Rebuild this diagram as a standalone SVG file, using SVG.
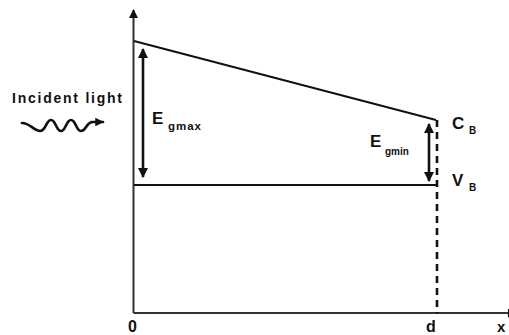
<svg xmlns="http://www.w3.org/2000/svg" width="509" height="335" viewBox="0 0 509 335">
<style>
.t{font-family:"Liberation Sans",Arial,sans-serif;font-weight:bold;fill:#111}
.ax{stroke:#333;stroke-width:2;fill:none}
.ln{stroke:#111;stroke-width:2;fill:none}
.dbl{stroke:#111;stroke-width:2.6;fill:none}
</style>
<defs>
<marker id="ah" viewBox="0 0 10 10" refX="9" refY="5" markerWidth="4" markerHeight="4" orient="auto-start-reverse" markerUnits="strokeWidth">
<path d="M0,0 L10,5 L0,10 z" fill="#111"/>
</marker>
<marker id="axh" viewBox="0 0 10 10" refX="9" refY="5" markerWidth="5" markerHeight="4.5" orient="auto" markerUnits="strokeWidth">
<path d="M0,0 L10,5 L0,10 z" fill="#111"/>
</marker>
<marker id="wh" viewBox="0 0 10 10" refX="9" refY="5" markerWidth="3.2" markerHeight="3.2" orient="auto" markerUnits="strokeWidth">
<path d="M0,0 L10,5 L0,10 z" fill="#111"/>
</marker>
</defs>
<g id="connectors">
<path id="y-axis" class="ax" d="M133.5,313 V10" marker-end="url(#axh)"/>
<path id="x-axis" class="ax" d="M133.5,313 H516" marker-end="url(#axh)"/>
<path id="cb-line" class="ln" d="M134,41 L436,120"/>
<path id="vb-line" class="ln" d="M134,185 H437"/>
<path id="d-dash" d="M437,120 V313" stroke="#111" stroke-width="2.6" stroke-dasharray="7,5" fill="none"/>
<path id="egmax-arrow" class="dbl" d="M143,49 V177" marker-start="url(#ah)" marker-end="url(#ah)"/>
<path id="egmin-arrow" class="dbl" d="M429,124 V181" marker-start="url(#ah)" marker-end="url(#ah)"/>
<path id="light-wave" stroke="#111" stroke-width="2.7" fill="none" stroke-linecap="round" d="M22,123 C30,123 34,131 40,131 C46,131 46,120 51,120 C56,120 56,131 61,131 C66,131 66,120 71,120 C76,120 76,131 81,131 C86,131 86,123 92,122 L103,122" marker-end="url(#wh)"/>
</g>
<g id="incident-light"><text class="t" x="12" y="103" font-size="14" textLength="110" lengthAdjust="spacing" fill="#222">Incident light</text></g>
<g id="egmax"><text class="t" x="152" y="124" font-size="17">E</text><text class="t" x="168" y="130" font-size="11.5" textLength="33" lengthAdjust="spacing">gmax</text></g>
<g id="egmin"><text class="t" x="370" y="147" font-size="17">E</text><text class="t" x="385" y="155" font-size="10">gmin</text></g>
<g id="cb"><text class="t" x="452" y="129" font-size="17">C</text><text class="t" x="469" y="134" font-size="10">B</text></g>
<g id="vb"><text class="t" x="452" y="186" font-size="17">V</text><text class="t" x="469" y="191" font-size="10">B</text></g>
<g id="label-0"><text class="t" x="128" y="332" font-size="16">0</text></g>
<g id="label-d"><text class="t" x="426" y="332" font-size="16">d</text></g>
<g id="label-x"><text class="t" x="497" y="332" font-size="15">x</text></g>
</svg>
